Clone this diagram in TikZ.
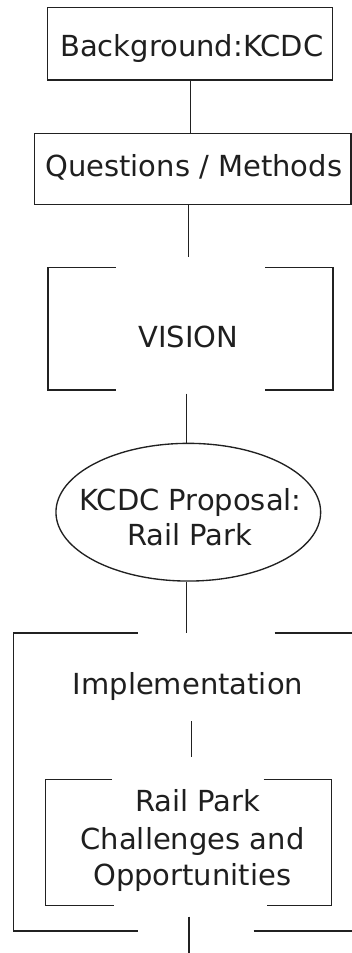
\documentclass[tikz,border=0pt]{standalone}
\usepackage{fontspec}
\setmainfont{DejaVu Sans}
\usetikzlibrary{shapes.geometric,calc}
\begin{document}
\begin{tikzpicture}[x=1pt,y=-1pt,
  ink/.style={draw=black!87, line width=1.35pt},
  boxnode/.style={ink, rectangle, inner sep=0pt},
  framenode/.style={rectangle, inner sep=0pt},
  ovalnode/.style={ink, ellipse, inner sep=0pt},
  lbl/.style={anchor=base, inner sep=0pt, text=black!88, font=\fontsize{29}{35}\selectfont},
]
\useasboundingbox (0,0) rectangle (352,953);

% Background box
\node[boxnode, minimum width=285pt, minimum height=72.7pt] (bg) at (190.2,43.65) {};
\node[lbl] (bgt) at (191.7,56.7) {Background:KCDC};

% Questions box
\node[boxnode, minimum width=316.3pt, minimum height=71.4pt] (qm) at (192.85,169) {};
\node[lbl] (qmt) at (193.8,176) {Questions / Methods};

% Vision frame
\node[framenode, minimum width=284.4pt, minimum height=122.3pt] (vis) at (190.5,328.65) {};
\node[lbl] (vist) at (188.3,347.7) {VISION};
\draw[ink] ([xshift=67.7pt]vis.north west) -- (vis.north west) -- (vis.south west) -- ([xshift=67.7pt]vis.south west);
\draw[ink] ([xshift=-67.7pt]vis.north east) -- (vis.north east) -- (vis.south east) -- ([xshift=-67.7pt]vis.south east);

% Proposal ellipse
\node[ovalnode, minimum width=264.7pt, minimum height=137.7pt] (kp) at (188.3,512.2) {};
\node[lbl] (kpt1) at (190.5,510) {KCDC Proposal:};
\node[lbl] (kpt2) at (189.7,545) {Rail Park};

% Implementation frame
\node[framenode, minimum width=338pt, minimum height=297.4pt] (impl) at (183,782) {};
\node[lbl] (implt) at (188,694.3) {Implementation};
\draw[ink] ([xshift=123.7pt]impl.north west) -- (impl.north west) -- (impl.south west) -- ([xshift=123.7pt]impl.south west);
\draw[ink] ([xshift=-77.7pt]impl.north east) -- (impl.north east);
\draw[ink] ([xshift=-98.7pt]impl.south east) -- (impl.south east);

% Challenges frame
\node[framenode, minimum width=285.3pt, minimum height=126pt] (ch) at (188.35,842.5) {};
\node[lbl] (cht1) at (197.8,811.7) {Rail Park};
\node[lbl] (cht2) at (192.5,849) {Challenges and};
\node[lbl] (cht3) at (192.2,885) {Opportunities};
\draw[ink] ([xshift=66.6pt]ch.north west) -- (ch.north west) -- (ch.south west) -- ([xshift=68.3pt]ch.south west);
\draw[ink] ([xshift=-67.7pt]ch.north east) -- (ch.north east) -- (ch.south east) -- ([xshift=-64.3pt]ch.south east);

% connectors
\draw[ink] ($(bg.south)+(0.5,0)$) -- ($(bg.south |- qm.north)+(0.5,0)$);
\draw[ink, shorten >=10.8pt] ($(qm.south -| vis.north)+(-1.8,0)$) -- ($(vis.north)+(-1.8,0)$);
\draw[ink, shorten <=3.5pt] ($(vis.south -| kp.north)+(-1.6,0)$) -- ($(kp.north)+(-1.6,0)$);
\draw[ink] ($(kp.south)+(-1.6,0)$) -- ($(kp.south |- impl.north)+(-1.6,0)$);
\draw[ink, shorten >=22.8pt] ($(ch.north |- implt.base)+(3.2,26.7)$) -- ($(ch.north)+(3.2,0)$);
\coordinate (bot) at (189,953);
\draw[ink, shorten <=10.8pt] (ch.south -| bot) -- (bot);
\end{tikzpicture}
\end{document}
